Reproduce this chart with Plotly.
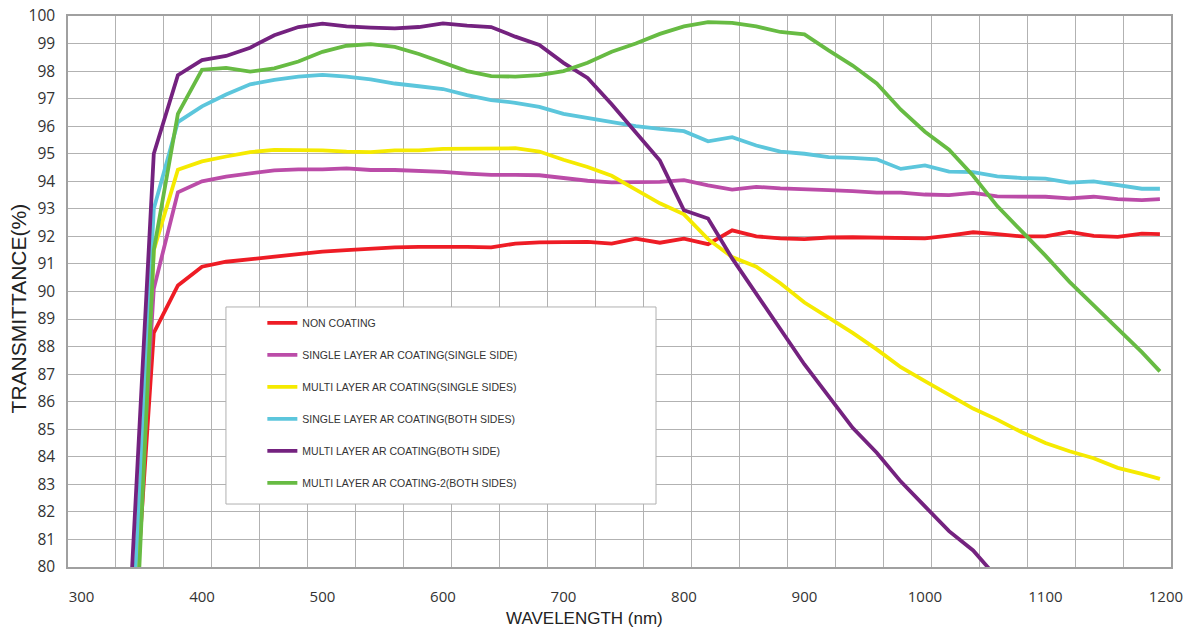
import plotly.graph_objects as go

wavelength = [340, 360, 380, 400, 420, 440, 460, 480, 500, 520, 540, 560, 580, 600,
              620, 640, 660, 680, 700, 720, 740, 760, 780, 800, 820, 840, 860, 880,
              900, 920, 940, 960, 980, 1000, 1020, 1040, 1060, 1080, 1100, 1120,
              1140, 1160, 1180, 1195]

non_coating = [75.4, 88.5, 90.22, 90.9, 91.08, 91.18, 91.26, 91.38, 91.45, 91.5, 91.56,
               91.6, 91.62, 91.63, 91.62, 91.6, 91.74, 91.78, 91.8, 91.8, 91.74, 91.92,
               91.77, 91.92, 91.72, 92.22, 92.0, 91.93, 91.9, 91.96, 91.97, 91.96, 91.93,
               91.93, 92.03, 92.15, 92.08, 92.0, 92.0, 92.16, 92.02, 91.98, 92.1, 92.08]

single_layer_single = [75.7, 90.1, 93.6, 94.0, 94.17, 94.3, 94.4, 94.43, 94.43, 94.47,
                       94.41, 94.41, 94.38, 94.34, 94.28, 94.23, 94.23, 94.22, 94.12,
                       94.02, 93.96, 93.96, 93.98, 94.04, 93.85, 93.7, 93.8, 93.74, 93.72,
                       93.68, 93.64, 93.59, 93.59, 93.52, 93.5, 93.58, 93.45, 93.44, 93.44,
                       93.38, 93.44, 93.35, 93.32, 93.35]

multi_layer_single = [75.1, 91.5, 94.42, 94.72, 94.9, 95.06, 95.14, 95.14, 95.12, 95.08,
                      95.06, 95.12, 95.12, 95.18, 95.18, 95.18, 95.2, 95.08, 94.78, 94.52,
                      94.2, 93.7, 93.2, 92.8, 91.9, 91.25, 90.9, 90.3, 89.6, 89.05, 88.5,
                      87.9, 87.25, 86.75, 86.25, 85.75, 85.35, 84.9, 84.5, 84.2, 83.95,
                      83.6, 83.38, 83.2]

single_layer_both = [75.7, 93.0, 96.15, 96.72, 97.15, 97.52, 97.68, 97.8, 97.86, 97.8,
                     97.7, 97.55, 97.45, 97.35, 97.13, 96.95, 96.85, 96.7, 96.45, 96.3,
                     96.18, 96.0, 95.9, 95.82, 95.45, 95.6, 95.3, 95.08, 95.0, 94.88,
                     94.85, 94.8, 94.45, 94.58, 94.35, 94.33, 94.18, 94.12, 94.1, 93.95,
                     94.0, 93.85, 93.73, 93.73]

multi_layer_both = [78.3, 95.0, 97.85, 98.4, 98.55, 98.85, 99.3, 99.6, 99.72, 99.62,
                    99.58, 99.55, 99.6, 99.73, 99.65, 99.6, 99.25, 98.95, 98.3, 97.75,
                    96.8, 95.75, 94.75, 92.95, 92.65, 91.2, 89.9, 88.6, 87.35, 86.2,
                    85.05, 84.15, 83.1, 82.2, 81.3, 80.6, 79.6, None, None, None, None,
                    None, None, None]

multi_layer2_both = [72.3, 91.5, 96.45, 98.05, 98.12, 97.98, 98.1, 98.35, 98.7, 98.92,
                     98.98, 98.88, 98.62, 98.3, 98.0, 97.82, 97.8, 97.85, 98.0, 98.3,
                     98.7, 99.0, 99.35, 99.62, 99.78, 99.75, 99.62, 99.42, 99.33, 98.75,
                     98.2, 97.55, 96.6, 95.8, 95.15, 94.2, 93.1, 92.2, 91.3, 90.35, 89.5,
                     88.65, 87.8, 87.1]

series_names = ["NON COATING",
                "SINGLE LAYER AR COATING(SINGLE SIDE)",
                "MULTI LAYER AR COATING(SINGLE SIDES)",
                "SINGLE LAYER AR COATING(BOTH SIDES)",
                "MULTI LAYER AR COATING(BOTH SIDE)",
                "MULTI LAYER AR COATING-2(BOTH SIDES)"]
series_values = [non_coating, single_layer_single, multi_layer_single,
                 single_layer_both, multi_layer_both, multi_layer2_both]
series_colors = ["#ee1c25", "#bb4ca8", "#f5ea00", "#5cc6dc", "#74227f", "#67bb43"]

x_ticks = [300, 400, 500, 600, 700, 800, 900, 1000, 1100, 1200]
y_ticks = list(range(80, 101))

x_min, x_max = 288.8, 1204.2
x_grid_step = (x_max - x_min) / 23

fig = go.Figure()
for i, (name, vals, col) in enumerate(zip(series_names, series_values, series_colors)):
    fig.add_trace(go.Scatter(
        x=wavelength, y=vals, name=name, mode="lines",
        line=dict(color=col, width=3.8),
        legendgroup=str(i), connectgaps=False,
    ))

grid_col = "#b2b2b2"
frame_col = "#a0a0a0"
fig.update_layout(
    width=1194, height=631,
    margin=dict(l=68, r=23, t=16, b=64, autoexpand=False),
    paper_bgcolor="white", plot_bgcolor="white",
    showlegend=True,
    xaxis=dict(range=[x_min, x_max], tickvals=x_ticks,
               ticktext=[str(v) for v in x_ticks],
               showgrid=False, zeroline=False, ticks="", automargin=False,
               ticklabelstandoff=15,
               minor=dict(tick0=x_min, dtick=x_grid_step, showgrid=True,
                          gridcolor=grid_col, gridwidth=1, ticks=""),
               showline=True, linecolor=frame_col, linewidth=1.5, mirror=True,
               tickfont=dict(family="Open Sans", size=15, color="#333333")),
    yaxis=dict(range=[80, 100], tickvals=y_ticks, showgrid=True, gridcolor=grid_col,
               gridwidth=1, zeroline=False, ticks="", ticklabelstandoff=8,
               automargin=False,
               showline=True, linecolor=frame_col, linewidth=1.5, mirror=True,
               tickfont=dict(family="Open Sans", size=15.5, color="#333333")),
    legend=dict(x=0.1762, y=0.4695, xanchor="left", yanchor="top",
                bgcolor="rgba(0,0,0,0)", borderwidth=0,
                tracegroupgap=13,
                font=dict(family="Liberation Sans", size=10.5, color="#333333")),
    shapes=[dict(type="rect", xref="paper", yref="paper",
                 x0=0.1432, x1=0.5331, y0=0.1143, y1=0.4719,
                 line=dict(color="#b0b0b0", width=1), fillcolor="white",
                 layer="above")],
    annotations=[
        dict(text="WAVELENGTH (nm)", xref="paper", yref="paper", x=0.468, y=-0.093,
             xanchor="center", yanchor="middle", showarrow=False,
             font=dict(family="Liberation Sans", size=17, color="#222222")),
        dict(text="TRANSMITTANCE(%)", xref="paper", yref="paper", x=-0.045, y=0.47,
             xanchor="center", yanchor="middle", showarrow=False, textangle=-90,
             font=dict(family="Liberation Sans", size=21, color="#222222")),
    ],
)

fig.write_html("out.html", config={"displayModeBar": False},
               post_script="document.body.style.margin='0';document.body.style.padding='0';")
